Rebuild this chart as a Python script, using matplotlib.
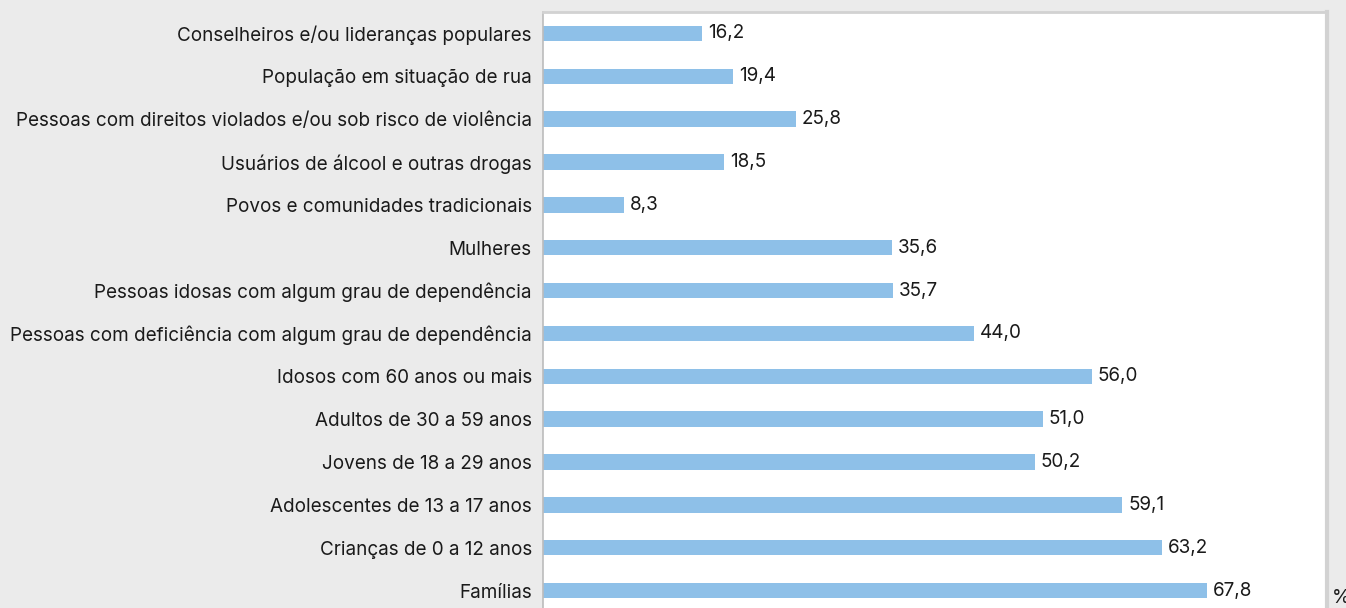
import matplotlib.pyplot as plt

plt.rcParams['font.family'] = ['Inter', 'DejaVu Sans']

# Categories (top to bottom as shown) and values (%)
categories = [
    'Conselheiros e/ou lideranças populares',
    'População em situação de rua',
    'Pessoas com direitos violados e/ou sob risco de violência',
    'Usuários de álcool e outras drogas',
    'Povos e comunidades tradicionais',
    'Mulheres',
    'Pessoas idosas com algum grau de dependência',
    'Pessoas com deficiência com algum grau de dependência',
    'Idosos com 60 anos ou mais',
    'Adultos de 30 a 59 anos',
    'Jovens de 18 a 29 anos',
    'Adolescentes de 13 a 17 anos',
    'Crianças de 0 a 12 anos',
    'Famílias',
]
values = [16.2, 19.4, 25.8, 18.5, 8.3, 35.6, 35.7, 44.0, 56.0, 51.0, 50.2, 59.1, 63.2, 67.8]

fig = plt.figure(figsize=(13.46, 6.08), dpi=100, facecolor='#ebebeb')
ax = fig.add_axes([0.4034, -0.0066, 0.5825, 0.9868])
ax.set_facecolor('white')

pos = list(range(len(categories)))
ax.barh(pos, values, height=0.36, color='#8ec0e8')
ax.set_ylim(len(categories) - 0.5, -0.5)
ax.set_xlim(0, 80)

ax.set_yticks(pos)
ax.set_yticklabels(categories, fontsize=13.6, color='#1a1a1a')
ax.tick_params(axis='y', length=0, pad=8)
ax.set_xticks([])

for p, v in zip(pos, values):
    ax.text(v + 0.6, p, f'{v:.1f}'.replace('.', ','), va='center', ha='left',
            fontsize=13.6, color='#1a1a1a')

ax.spines['left'].set_color('#bcbcbc')
ax.spines['left'].set_linewidth(1.2)
ax.spines['top'].set_color('#d2d2d2')
ax.spines['top'].set_linewidth(2)
ax.spines['right'].set_color('#d2d2d2')
ax.spines['right'].set_linewidth(3)
ax.spines['bottom'].set_visible(False)

fig.text(0.9895, 0.0165, '%', fontsize=13.6, color='#1a1a1a', ha='left', va='center')

fig.savefig('out.png', dpi=100, facecolor=fig.get_facecolor())
